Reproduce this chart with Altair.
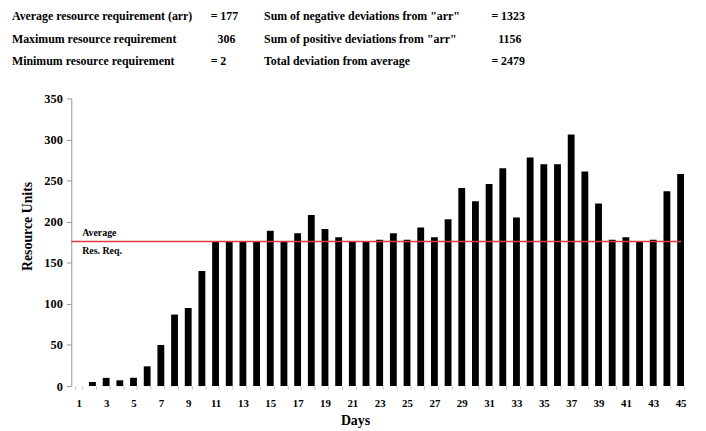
import altair as alt
import pandas as pd

# ---- data ----
days = list(range(1, 46))
resource_units = [0, 5, 10, 7, 10, 24, 50, 87, 95, 140,
                  176, 176, 176, 176, 189, 176, 186, 208, 191, 181,
                  176, 176, 178, 186, 178, 193, 181, 203, 241, 225,
                  246, 265, 205, 278, 270, 270, 306, 261, 222, 178,
                  181, 176, 178, 237, 258]
average_line = 176
left_labels = ["Average resource requirement (arr)",
               "Maximum resource requirement",
               "Minimum  resource requirement"]
left_values = ["= 177", "306", "= 2"]
right_labels = ["Sum of negative deviations from \"arr\"",
                "Sum of positive deviations from \"arr\"",
                "Total deviation from average"]
right_values = ["= 1323", "1156", "= 2479"]
avg_label_top = "Average"
avg_label_bottom = "Res. Req."

FONT = "Liberation Serif"
W, H = 624, 291

df = pd.DataFrame({"day": days, "units": resource_units})

bars = alt.Chart(df).mark_bar(color="black").encode(
    x=alt.X("day:O",
            scale=alt.Scale(paddingInner=0.5, paddingOuter=0.3),
            axis=alt.Axis(title="Days", labelAngle=0,
                          labelExpr="datum.value % 2 == 1 ? datum.label : ''",
                          domain=False, ticks=True, tickBand="extent",
                          tickColor="#bbbbbb", tickSize=3,
                          labelFont=FONT, labelFontSize=11, labelFontWeight="bold",
                          labelPadding=9, titleFont=FONT, titleFontSize=14,
                          titleFontWeight="bold", titlePadding=5,
                          titleX=287, titleAnchor="middle")),
    y=alt.Y("units:Q",
            scale=alt.Scale(domain=[0, 350], nice=False),
            axis=alt.Axis(title="Resource Units", values=list(range(0, 351, 50)),
                          grid=False, domainColor="#999999", tickColor="#999999",
                          tickSize=5, labelFont=FONT, labelFontSize=12.5,
                          labelFontWeight="bold", labelPadding=4,
                          titleFont=FONT, titleFontSize=14, titleFontWeight="bold",
                          titlePadding=9, titleY=129)),
)

avg_df = pd.DataFrame({"avg": [average_line]})
rule = alt.Chart(avg_df).mark_rule(color="#e23744", strokeWidth=1.5).encode(
    y="avg:Q", x=alt.value(0), x2=alt.value(617))
avg_top = alt.Chart(avg_df).mark_text(
    text=avg_label_top, align="left", baseline="bottom", dy=-3,
    font=FONT, fontSize=10, fontWeight="bold").encode(y="avg:Q", x=alt.value(11))
avg_bot = alt.Chart(avg_df).mark_text(
    text=avg_label_bottom, align="left", baseline="top", dy=5,
    font=FONT, fontSize=10, fontWeight="bold").encode(y="avg:Q", x=alt.value(11))

layers = [bars, rule, avg_top, avg_bot]

row_y = [-83, -60, -38]
one = pd.DataFrame({"k": [0]})
for i in range(3):
    for txt, xpos in [(left_labels[i], -60), (left_values[i], 141 if left_values[i].startswith("=") else 148),
                      (right_labels[i], 195), (right_values[i], 425 if right_values[i].startswith("=") else 432)]:
        layers.append(alt.Chart(one).mark_text(
            text=txt, align="left", baseline="middle", font=FONT,
            fontSize=12, fontWeight="bold").encode(
            x=alt.value(xpos), y=alt.value(row_y[i])))

chart = alt.layer(*layers).properties(
    width=W, height=H,
    autosize=alt.AutoSizeParams(type="none"),
    padding={"left": 64, "top": 89, "right": 10, "bottom": 42},
).configure_view(stroke=None)

chart.save("out.html", embed_options={"renderer": "svg", "actions": False})
